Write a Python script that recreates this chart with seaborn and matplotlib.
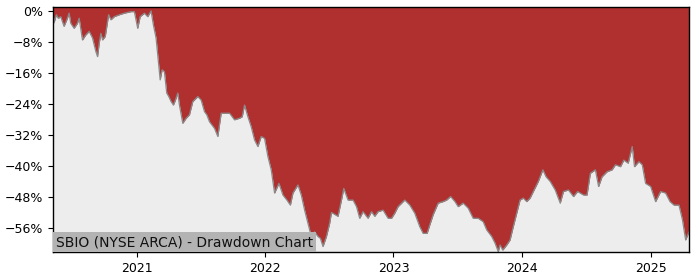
import numpy as np
import pandas as pd
import matplotlib
matplotlib.use("Agg")
import matplotlib.pyplot as plt
import seaborn as sns
from matplotlib.ticker import FuncFormatter

# ---- data ----
decimal_years = [
    2020.350, 2020.358, 2020.376, 2020.391, 2020.410, 2020.436, 2020.462, 2020.475,
    2020.488, 2020.514, 2020.540, 2020.553, 2020.579, 2020.605, 2020.631, 2020.657,
    2020.683, 2020.696, 2020.709, 2020.722, 2020.735, 2020.756, 2020.782, 2020.800,
    2020.826, 2020.865, 2020.904, 2020.956, 2020.982, 2020.995, 2021.008, 2021.027,
    2021.060, 2021.086, 2021.112, 2021.130, 2021.151, 2021.164, 2021.183, 2021.198,
    2021.216, 2021.234, 2021.250, 2021.268, 2021.286, 2021.302, 2021.320, 2021.333,
    2021.359, 2021.385, 2021.411, 2021.437, 2021.476, 2021.502, 2021.528, 2021.546,
    2021.567, 2021.606, 2021.632, 2021.658, 2021.684, 2021.723, 2021.762, 2021.801,
    2021.822, 2021.840, 2021.866, 2021.892, 2021.918, 2021.944, 2021.970, 2021.996,
    2022.022, 2022.048, 2022.074, 2022.108, 2022.139, 2022.170, 2022.197, 2022.217,
    2022.256, 2022.282, 2022.308, 2022.334, 2022.360, 2022.386, 2022.412, 2022.431,
    2022.451, 2022.478, 2022.503, 2022.517, 2022.568, 2022.595, 2022.613, 2022.646,
    2022.685, 2022.712, 2022.737, 2022.763, 2022.802, 2022.829, 2022.854, 2022.880,
    2022.919, 2022.958, 2022.985, 2023.010, 2023.036, 2023.088, 2023.127, 2023.166,
    2023.205, 2023.231, 2023.262, 2023.283, 2023.309, 2023.348, 2023.387, 2023.414,
    2023.445, 2023.479, 2023.504, 2023.543, 2023.582, 2023.621, 2023.660, 2023.699,
    2023.726, 2023.765, 2023.791, 2023.816, 2023.830, 2023.851, 2023.882, 2023.908,
    2023.933, 2023.960, 2023.986, 2024.011, 2024.038, 2024.064, 2024.095, 2024.128,
    2024.163, 2024.188, 2024.220, 2024.259, 2024.298, 2024.323, 2024.362, 2024.401,
    2024.433, 2024.479, 2024.506, 2024.532, 2024.571, 2024.596, 2024.623, 2024.662,
    2024.701, 2024.727, 2024.766, 2024.792, 2024.826, 2024.857, 2024.875, 2024.909,
    2024.935, 2024.961, 2025.000, 2025.039, 2025.078, 2025.117, 2025.151, 2025.182,
    2025.221, 2025.248, 2025.273, 2025.299,
]
drawdown_pct = [
    0.0, -3.1, -1.0, -1.9, -1.5, -4.0, -1.9, -0.6,
    -3.2, -4.5, -3.2, -1.9, -7.5, -6.2, -5.3, -7.0,
    -10.5, -11.8, -8.3, -5.8, -7.5, -6.6, -1.0, -2.3,
    -1.5, -1.0, -0.6, -0.2, -0.2, -2.3, -4.5, -1.5,
    -0.6, -1.5, 0.0, -3.6, -7.0, -11.4, -17.8, -15.2,
    -15.7, -21.2, -22.1, -23.4, -24.3, -23.0, -21.2, -24.3,
    -29.0, -27.7, -26.8, -23.4, -22.1, -23.0, -26.0, -26.8,
    -28.6, -30.3, -32.4, -26.4, -26.4, -26.4, -28.1, -27.7,
    -27.3, -24.3, -27.3, -29.9, -33.3, -35.0, -32.4, -32.9,
    -37.6, -41.0, -47.0, -44.5, -47.5, -48.8, -50.1, -47.0,
    -44.9, -47.5, -51.4, -54.8, -58.2, -57.0, -58.2, -58.7,
    -60.8, -58.2, -54.8, -52.0, -53.0, -48.8, -45.8, -48.8,
    -48.8, -50.5, -53.5, -51.8, -53.5, -51.8, -53.0, -51.8,
    -51.4, -53.5, -53.5, -52.2, -50.5, -48.8, -50.1, -52.2,
    -55.7, -57.4, -57.4, -55.2, -52.6, -49.6, -49.2, -48.8,
    -47.9, -49.2, -50.5, -49.6, -50.9, -53.5, -53.5, -54.4,
    -56.5, -58.2, -59.9, -62.1, -60.4, -61.7, -60.4, -59.1,
    -55.7, -52.2, -48.8, -48.3, -49.2, -48.3, -46.2, -44.0,
    -41.0, -42.8, -44.0, -46.2, -49.6, -46.6, -46.2, -47.9,
    -46.6, -47.5, -47.5, -41.9, -41.0, -45.3, -42.8, -41.5,
    -41.0, -39.7, -40.2, -38.5, -39.3, -35.0, -40.2, -38.9,
    -39.7, -44.5, -45.3, -49.2, -46.6, -47.0, -49.2, -50.1,
    -50.1, -53.9, -59.1, -57.0,
]
ytick_values = [0, -8, -16, -24, -32, -40, -48, -56]
xtick_years = [2021, 2022, 2023, 2024, 2025]
title_text = "SBIO (NYSE ARCA) - Drawdown Chart"


def to_datetime(y):
    year = int(np.floor(y))
    start = pd.Timestamp(year, 1, 1)
    end = pd.Timestamp(year + 1, 1, 1)
    return start + (end - start) * (y - year)


df = pd.DataFrame({
    "date": [to_datetime(v) for v in decimal_years],
    "drawdown": drawdown_pct,
})

sns.set_style("ticks")
fig = plt.figure(figsize=(7, 2.8), dpi=100)
ax = fig.add_axes([53 / 700, 28 / 280, 636 / 700, 245 / 280])
ax.set_facecolor("#ededed")

ax.fill_between(df["date"], df["drawdown"], 5, color="#b03030", linewidth=0)
sns.lineplot(data=df, x="date", y="drawdown", color="#8a8a8a", linewidth=0.9, ax=ax)

ax.set_ylim(-62.2, 1.0)
ax.set_xlim(df["date"].iloc[0], df["date"].iloc[-1])
ax.set_yticks(ytick_values)
ax.yaxis.set_major_formatter(FuncFormatter(
    lambda v, p: f"{v:.0f}%".replace("-", "\u2212") if v != 0 else "0%"))
ax.set_xticks([pd.Timestamp(y, 1, 1) for y in xtick_years])
ax.set_xticklabels([str(y) for y in xtick_years])
ax.set_xlabel("")
ax.set_ylabel("")
ax.tick_params(axis="both", labelsize=9, length=3.5, width=0.8, colors="black")
for s in ax.spines.values():
    s.set_color("black")
    s.set_linewidth(1.0)

ax.text(0.005, 0.012, title_text, transform=ax.transAxes, fontsize=10,
        ha="left", va="bottom", color="#111111",
        bbox=dict(facecolor="#b3b3b3", edgecolor="none", pad=2.2))

fig.savefig("out.png", dpi=100)
